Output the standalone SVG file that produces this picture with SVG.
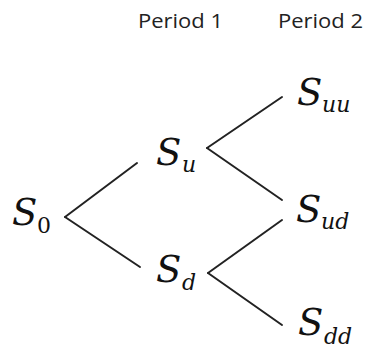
<svg xmlns="http://www.w3.org/2000/svg" width="366" height="352" viewBox="0 0 366 352">
<style>
.hdr{font-family:"Open Sans","Liberation Sans",sans-serif;font-size:20px;fill:#222}
.s{font-family:"DejaVu Serif",serif;font-style:italic;font-size:37px;fill:#111}
.sub{font-family:"DejaVu Serif",serif;font-style:italic;font-size:22px;fill:#111}
.edge{stroke:#222;stroke-width:2;fill:none;stroke-linecap:round}
</style>
<rect width="366" height="352" fill="#fff"/>
<g id="headers">
<text class="hdr" x="138" y="28" textLength="85" lengthAdjust="spacingAndGlyphs">Period 1</text>
<text class="hdr" x="278" y="28" textLength="85" lengthAdjust="spacingAndGlyphs">Period 2</text>
</g>
<g id="connectors">
<line class="edge" x1="65" y1="217" x2="137" y2="163"/>
<line class="edge" x1="65" y1="217" x2="140" y2="267"/>
<line class="edge" x1="207" y1="148" x2="282" y2="97"/>
<line class="edge" x1="207" y1="148" x2="282" y2="200"/>
<line class="edge" x1="208" y1="273" x2="282" y2="220"/>
<line class="edge" x1="208" y1="273" x2="282" y2="325"/>
</g>
<g id="S0"><text class="s" x="12" y="225">S</text><text class="sub" x="37" y="233" style="font-style:normal;font-size:22px">0</text></g>
<g id="Su"><text class="s" x="156" y="165">S</text><text class="sub" x="182" y="172">u</text></g>
<g id="Sd"><text class="s" x="156" y="282">S</text><text class="sub" x="182" y="290">d</text></g>
<g id="Suu"><text class="s" x="297" y="105">S</text><text class="sub" x="322" y="112">uu</text></g>
<g id="Sud"><text class="s" x="296" y="222">S</text><text class="sub" x="321" y="229">ud</text></g>
<g id="Sdd"><text class="s" x="298" y="335">S</text><text class="sub" x="324" y="344">dd</text></g>
</svg>
